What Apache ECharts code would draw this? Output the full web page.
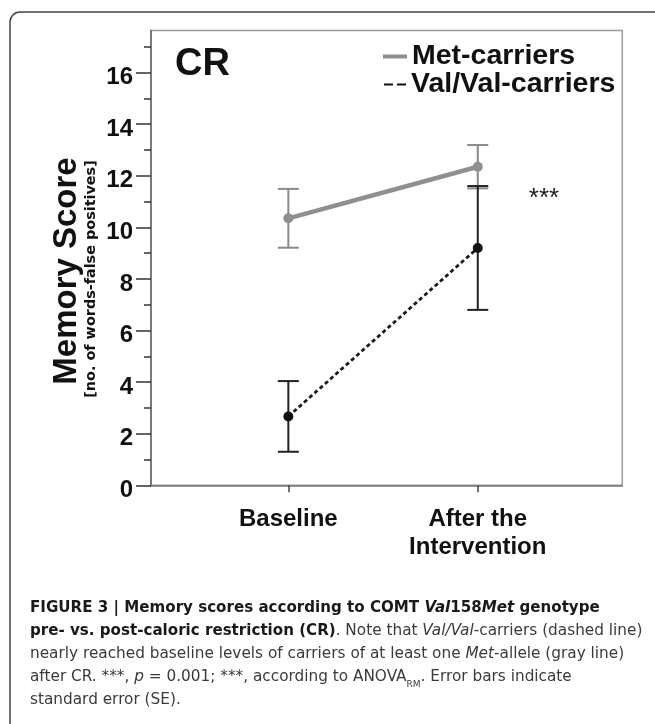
<!DOCTYPE html>
<html>
<head>
<meta charset="utf-8">
<script src="https://cdn.jsdelivr.net/npm/echarts@6/dist/echarts.min.js"></script>
<style>
html,body{margin:0;padding:0;background:#fff;}
#chart{width:655px;height:724px;}
</style>
</head>
<body>
<div id="chart"></div>
<script>
// ---- data ----
const categories = ['Baseline', 'After the\nIntervention'];
const xPos = [0, 1];
const metMean = [10.35, 12.35];
const metSE = [1.14, 0.84];
const valMean = [2.67, 9.20];
const valSE = [1.37, 2.40];
const yMajorTicks = [0, 2, 4, 6, 8, 10, 12, 14, 16];
const yMinorTicks = [1, 3, 5, 7, 9, 11, 13, 15, 17];
const seriesNames = ['Met-carriers', 'Val/Val-carriers'];

const FONT = '"Liberation Sans", Arial, Helvetica, sans-serif';
const CAPFONT = '"DejaVu Sans", "Liberation Sans", sans-serif';

const metPts = xPos.map((x, i) => [x, metMean[i]]);
const valPts = xPos.map((x, i) => [x, valMean[i]]);
const metErr = xPos.map((x, i) => [x, metMean[i] - metSE[i], metMean[i] + metSE[i]]);
const valErr = xPos.map((x, i) => [x, valMean[i] - valSE[i], valMean[i] + valSE[i]]);

function errRender(color, width, capHalf) {
  return function (params, api) {
    const x = api.value(0);
    const lo = api.coord([x, api.value(1)]);
    const hi = api.coord([x, api.value(2)]);
    const st = { stroke: color, lineWidth: width };
    return {
      type: 'group',
      children: [
        { type: 'line', shape: { x1: lo[0], y1: lo[1], x2: hi[0], y2: hi[1] }, style: st },
        { type: 'line', shape: { x1: lo[0] - capHalf, y1: lo[1], x2: lo[0] + capHalf, y2: lo[1] }, style: st },
        { type: 'line', shape: { x1: hi[0] - capHalf, y1: hi[1], x2: hi[0] + capHalf, y2: hi[1] }, style: st }
      ]
    };
  };
}

const chart = echarts.init(document.getElementById('chart'), null, { renderer: 'canvas' });

const capBase = { fontFamily: CAPFONT, fontSize: 15.3, lineHeight: 23 };
const option = {
  animation: false,
  backgroundColor: '#fff',
  grid: {
    left: 151, top: 30.5, width: 471.3, height: 454.8,
    show: true, borderColor: '#9a9a9a', borderWidth: 1.5, backgroundColor: 'transparent'
  },
  title: [{
    left: 25, top: 592,
    text: [
      '{b|FIGURE 3 | Memory scores according to COMT }{bi|Val}{b|158}{bi|Met}{b| genotype}',
      '{b|pre- vs. post-caloric restriction (CR)}{r|. Note that }{i|Val/Val}{r|-carriers (dashed line)}',
      '{r|nearly reached baseline levels of carriers of at least one }{i|Met}{r|-allele (gray line)}',
      '{r|after CR. ***, }{i|p}{r| = 0.001; ***, according to ANOVA}{sub|RM}{r|. Error bars indicate}',
      '{r|standard error (SE).}'
    ].join('\n'),
    textStyle: {
      fontWeight: 'normal',
      rich: {
        b: Object.assign({}, capBase, { fontSize: 15.1, fontWeight: 'bold', color: '#1a1a1a' }),
        bi: Object.assign({}, capBase, { fontSize: 15.1, fontWeight: 'bold', fontStyle: 'italic', color: '#1a1a1a' }),
        r: Object.assign({}, capBase, { fontWeight: 'normal', color: '#3a3a3a' }),
        i: Object.assign({}, capBase, { fontWeight: 'normal', fontStyle: 'italic', color: '#3a3a3a' }),
        sub: { fontFamily: CAPFONT, fontWeight: 'normal', fontSize: 9, color: '#3a3a3a', lineHeight: 23, verticalAlign: 'bottom' }
      }
    }
  }],
  legend: [{
    data: [{ name: seriesNames[0], icon: 'rect' }],
    orient: 'vertical', left: 378, top: 37,
    itemWidth: 24, itemHeight: 4,
    textStyle: { fontFamily: FONT, fontWeight: 'bold', fontSize: 28.5, color: '#111' },
    selectedMode: false
  }, {
    data: [{ name: seriesNames[1], icon: 'path://M0,0h9v2h-9z M13,0h9v2h-9z' }],
    orient: 'vertical', left: 379, top: 65,
    itemWidth: 22, itemHeight: 2,
    textStyle: { fontFamily: FONT, fontWeight: 'bold', fontSize: 28.5, color: '#111' },
    selectedMode: false
  }],
  graphic: [
    { type: 'rect', shape: { x: 10, y: 12, width: 700, height: 800, r: 10 },
      style: { fill: 'none', stroke: '#444', lineWidth: 1.5 }, silent: true },
    { type: 'text', x: 175, y: 64.5,
      style: { text: 'CR', font: 'bold 38px ' + FONT, fill: '#111', textAlign: 'left', textVerticalAlign: 'middle' } },
    { type: 'text', x: 544, y: 199,
      style: { text: '***', font: '26px ' + FONT, fill: '#222', textAlign: 'center', textVerticalAlign: 'middle' } },
    { type: 'text', x: 66.5, y: 271, rotation: Math.PI / 2,
      style: { text: 'Memory Score', font: 'bold 33px ' + FONT, fill: '#111', textAlign: 'center', textVerticalAlign: 'middle' } },
    { type: 'text', x: 91.5, y: 279, rotation: Math.PI / 2,
      style: { text: '[no. of words-false positives]', font: 'bold 14.4px "DejaVu Sans", ' + FONT, fill: '#111', textAlign: 'center', textVerticalAlign: 'middle' } }
  ],
  xAxis: {
    type: 'value', min: -0.725, max: 1.763,
    axisLine: { show: true, onZero: false, lineStyle: { color: '#777', width: 1.5 } },
    axisTick: { show: true, customValues: xPos, length: 7, lineStyle: { color: '#444', width: 1.5 } },
    axisLabel: {
      customValues: xPos,
      formatter: v => categories[xPos.indexOf(v)] || '',
      fontFamily: FONT, fontWeight: 'bold', fontSize: 24, lineHeight: 28, color: '#111', margin: 20
    },
    splitLine: { show: false }
  },
  yAxis: [{
    type: 'value', min: 0, max: 17.63,
    axisLine: { show: true, onZero: false, lineStyle: { color: '#666', width: 1.5 } },
    axisTick: { show: true, customValues: yMajorTicks, length: 15, lineStyle: { color: '#333', width: 1.5 } },
    axisLabel: {
      customValues: yMajorTicks,
      formatter: v => '{n|' + v + '}',
      margin: 18,
      rich: {
        n: { fontFamily: FONT, fontWeight: 'bold', fontSize: 24, color: '#111', lineHeight: 24, padding: [10, 0, 0, 0] }
      }
    },
    splitLine: { show: false }
  }, {
    type: 'value', min: 0, max: 17.63, position: 'left',
    axisLine: { show: false, onZero: false },
    axisTick: { show: true, customValues: yMinorTicks, length: 7, lineStyle: { color: '#333', width: 1.5 } },
    axisLabel: { show: false },
    splitLine: { show: false }
  }],
  series: [
    {
      name: 'metErr', type: 'custom', yAxisIndex: 0, data: metErr, z: 2,
      renderItem: errRender('#8a8a8a', 2, 10.5), silent: true
    },
    {
      name: seriesNames[0], type: 'line', data: metPts, z: 3,
      lineStyle: { color: '#8f8f8f', width: 4.5 },
      itemStyle: { color: '#8f8f8f' },
      symbol: 'circle', symbolSize: 10
    },
    {
      name: 'valErr', type: 'custom', yAxisIndex: 0, data: valErr, z: 4,
      renderItem: errRender('#222', 2, 10.5), silent: true
    },
    {
      name: seriesNames[1], type: 'line', data: valPts, z: 5,
      lineStyle: { color: '#1a1a1a', width: 2.8, type: [4, 3] },
      itemStyle: { color: '#111' },
      symbol: 'circle', symbolSize: 10
    }
  ]
};
chart.setOption(option);
</script>
</body>
</html>
